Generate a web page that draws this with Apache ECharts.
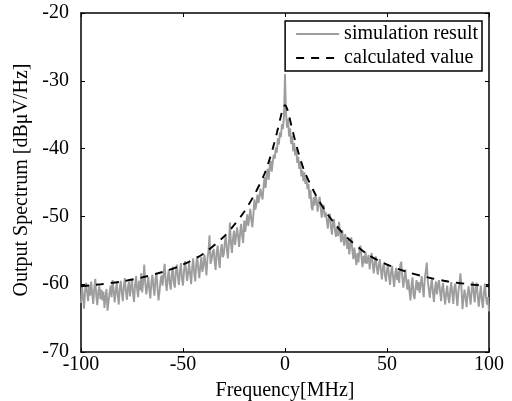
<!DOCTYPE html>
<html>
<head>
<meta charset="utf-8">
<script src="https://cdn.jsdelivr.net/npm/echarts@6/dist/echarts.min.js"></script>
<style>html,body{margin:0;padding:0;background:#fff}#c{width:512px;height:401px}</style>
</head>
<body>
<div id="c"></div>
<script>
// Frequency grid of simulation samples (MHz)
var simStart = -100;
var simStep = 0.5;
// Simulation result (dBuV/Hz), one value per grid sample from -100 to 100
var simValues = [
-62.8,-60.4,-61.9,-63.6,-60.9,-59.8,-61.2,-62.5,-60.1,-61.7,
-59.6,-61.4,-62.9,-60.6,-59.2,-61.8,-63.1,-61.0,-60.3,-62.2,
-60.8,-62.4,-61.1,-63.5,-62.0,-60.7,-63.9,-62.6,-61.3,-60.2,
-61.9,-59.4,-60.8,-62.7,-61.2,-59.8,-61.5,-63.0,-60.6,-59.5,
-61.3,-62.5,-60.2,-59.1,-61.0,-62.3,-60.5,-59.6,-61.8,-60.4,
-59.2,-61.4,-62.6,-60.1,-58.8,-60.7,-61.9,-59.5,-60.9,-58.4,
-61.2,-59.6,-57.1,-59.8,-61.5,-60.3,-58.9,-60.8,-62.1,-59.7,
-58.6,-60.4,-61.7,-59.2,-58.3,-60.6,-62.4,-61.1,-59.4,-58.7,
-60.2,-58.4,-57.0,-59.6,-61.0,-59.1,-57.8,-59.9,-60.8,-58.5,
-57.4,-59.8,-60.5,-58.2,-57.1,-58.9,-60.1,-58.0,-56.9,-59.3,
-60.2,-58.1,-56.6,-57.9,-59.5,-58.3,-56.8,-58.6,-60.0,-57.5,
-56.2,-58.4,-59.6,-57.0,-55.9,-57.8,-59.1,-57.3,-56.0,-58.2,
-57.4,-55.6,-56.9,-58.7,-56.2,-55.1,-52.8,-57.0,-56.4,-55.3,
-54.8,-56.6,-57.9,-55.2,-54.3,-56.4,-57.6,-55.0,-54.1,-56.0,
-55.6,-53.8,-52.9,-54.9,-56.2,-54.0,-50.9,-53.9,-55.4,-53.3,
-52.1,-54.2,-53.0,-51.6,-52.9,-54.5,-52.4,-51.1,-52.8,-53.9,
-50.6,-52.3,-51.0,-49.7,-51.4,-50.2,-48.9,-50.5,-51.6,-49.8,
-47.5,-49.0,-48.2,-46.8,-48.0,-47.1,-45.9,-46.8,-47.5,-45.6,
-44.2,-45.8,-43.9,-43.0,-44.6,-42.7,-41.8,-43.4,-42.0,-40.9,
-41.5,-39.8,-40.6,-38.5,-39.4,-37.6,-38.3,-36.4,-37.1,-35.2,
-29.0,
-34.8,-36.9,-35.6,-38.2,-37.0,-39.3,-38.1,-40.4,-39.2,-41.0,
-40.0,-42.1,-41.2,-43.0,-41.9,-44.1,-43.2,-44.8,-43.5,-45.2,
-44.3,-46.0,-45.2,-47.4,-46.1,-48.6,-49.1,-47.2,-48.4,-46.9,
-47.5,-49.3,-48.0,-47.1,-48.8,-50.2,-49.0,-48.3,-50.1,-49.4,
-50.6,-51.8,-50.2,-49.6,-51.5,-52.7,-51.0,-50.4,-52.1,-53.0,
-51.6,-52.9,-50.8,-52.4,-53.8,-52.0,-53.2,-54.3,-52.6,-53.5,
-54.8,-53.4,-55.6,-54.2,-53.1,-55.0,-56.3,-54.6,-55.9,-57.2,
-55.4,-56.8,-55.0,-54.3,-56.1,-57.5,-55.8,-56.9,-55.2,-57.0,
-56.9,-55.7,-57.8,-56.3,-55.4,-57.1,-58.4,-56.8,-55.9,-57.6,
-58.6,-57.2,-56.3,-58.0,-59.3,-57.5,-56.8,-58.7,-59.6,-57.9,
-57.0,-58.9,-60.1,-58.2,-57.3,-59.0,-60.4,-58.6,-57.6,-59.4,
-58.1,-59.8,-57.2,-56.7,-58.9,-60.5,-59.1,-57.8,-59.6,-60.8,
-59.3,-61.0,-62.4,-60.2,-59.0,-61.6,-62.2,-60.5,-59.4,-60.9,
-59.7,-61.3,-60.0,-58.8,-60.6,-61.9,-59.2,-58.1,-56.8,-59.5,
-60.8,-62.0,-60.3,-59.1,-61.2,-62.6,-60.7,-59.6,-61.5,-60.1,
-59.4,-61.1,-62.5,-60.6,-59.8,-61.7,-63.0,-61.3,-60.2,-61.9,
-62.8,-60.9,-59.7,-61.4,-62.9,-60.5,-59.9,-61.6,-63.2,-61.1,
-60.0,-58.4,-60.6,-63.7,-62.1,-60.8,-61.9,-63.4,-61.5,-60.3,
-61.7,-63.0,-60.9,-59.6,-61.4,-62.7,-60.4,-59.8,-61.9,-63.3,
-61.6,-60.2,-62.4,-63.5,-61.3,-59.9,-61.8,-63.0,-61.9,-64.0
];
// Calculated value curve
var calcFreq = [-100,-90,-80,-70,-60,-50,-40,-30,-25,-20,-15,-10,-8,-6,-4,-2,-1,0,1,2,4,6,8,10,15,20,25,30,40,50,60,70,80,90,100];
var calcValues = [-60.3,-60.0,-59.6,-59.0,-58.2,-57.1,-55.5,-53.0,-51.3,-49.3,-46.8,-43.7,-42.0,-40.0,-37.7,-35.2,-34.1,-33.6,-34.1,-35.2,-37.7,-40.0,-42.0,-43.7,-46.8,-49.3,-51.3,-53.0,-55.5,-57.1,-58.2,-59.0,-59.6,-60.0,-60.3];
var xTicks = [-100, -50, 0, 50, 100];
var yTicks = [-70, -60, -50, -40, -30, -20];

var simData = simValues.map(function (v, i) { return [simStart + i * simStep, v]; });
var calcData = calcFreq.map(function (f, i) { return [f, calcValues[i]]; });

var font = 'Liberation Serif';
var chart = echarts.init(document.getElementById('c'));
var axisLine = { show: true, onZero: false, lineStyle: { color: '#000', width: 1.5 } };
var tick = { show: true, inside: true, length: 4, lineStyle: { color: '#000', width: 1 } };
chart.setOption({
  animation: false,
  backgroundColor: '#fff',
  grid: { left: 81, right: 23, top: 13, bottom: 49, containLabel: false, outerBoundsMode: 'none' },
  legend: {
    orient: 'vertical', right: 30, top: 21,
    backgroundColor: '#fff', borderColor: '#000', borderWidth: 1.5, borderRadius: 0,
    padding: [3, 4, 3, 10], itemGap: 4, itemWidth: 43, itemHeight: 20,
    itemStyle: { color: 'transparent', borderColor: 'transparent', borderWidth: 0, opacity: 0 },
    textStyle: { fontFamily: font, fontSize: 20, color: '#000' },
    data: [{ name: 'simulation result' }, { name: 'calculated value' }]
  },
  xAxis: [{
    type: 'value', min: xTicks[0], max: xTicks[xTicks.length - 1], interval: 50,
    name: 'Frequency[MHz]', nameLocation: 'middle', nameGap: 29,
    nameTextStyle: { fontFamily: font, fontSize: 20, color: '#000' },
    axisLine: axisLine, axisTick: tick, splitLine: { show: false },
    axisLabel: { fontFamily: font, fontSize: 20, color: '#000', margin: 3 }
  }, {
    type: 'value', position: 'top', min: -100, max: 100, interval: 50,
    axisLine: axisLine, axisTick: tick, splitLine: { show: false }, axisLabel: { show: false }
  }],
  yAxis: [{
    type: 'value', min: yTicks[0], max: yTicks[yTicks.length - 1], interval: 10,
    name: 'Output Spectrum [dB\u03bcV/Hz]', nameLocation: 'middle', nameGap: 48,
    nameTextStyle: { fontFamily: font, fontSize: 20, color: '#000', padding: [0, 0, 0, 5] },
    axisLine: axisLine, axisTick: tick, splitLine: { show: false },
    axisLabel: { fontFamily: font, fontSize: 20, color: '#000', margin: 12 }
  }, {
    type: 'value', position: 'right', min: -70, max: -20, interval: 10,
    axisLine: axisLine, axisTick: tick, splitLine: { show: false }, axisLabel: { show: false }
  }],
  series: [{
    name: 'simulation result', type: 'line', data: simData, showSymbol: false, symbol: 'none',
    lineStyle: { color: '#9d9d9d', width: 1.9 }, itemStyle: { color: '#9d9d9d' }, z: 2
  }, {
    name: 'calculated value', type: 'line', data: calcData, showSymbol: false, symbol: 'none', smooth: 0.3,
    lineStyle: { color: '#000', width: 1.9, type: [8, 7] }, itemStyle: { color: '#000' }, z: 3
  }]
});
</script>
</body>
</html>
